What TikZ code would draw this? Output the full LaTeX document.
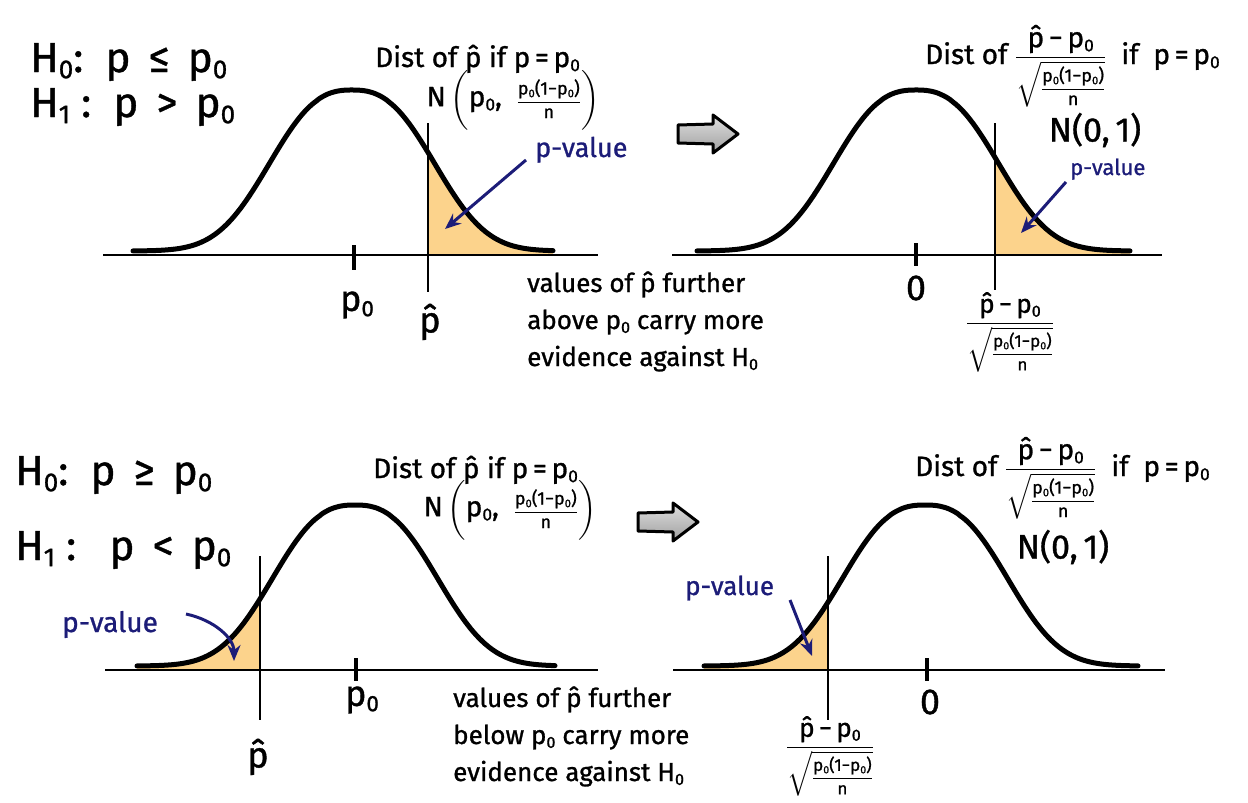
\documentclass[tikz,border=0pt]{standalone}
\usepackage{amsmath}
\usepackage{fontspec}
\setmainfont{Fira Sans}[FakeBold=1]
\usetikzlibrary{arrows.meta}
\definecolor{pfill}{RGB}{252,211,140}
\definecolor{pblue}{RGB}{28,28,120}
\newcommand\fsz[1]{\fontsize{#1}{#1}\selectfont}
\newcommand\sub[1]{\raisebox{-0.28ex}{\scalebox{0.62}{#1}}}
\newcommand\pz{p\sub{0}}
\newcommand\ph{\^{p}}
\newcommand\zfr[2]{\fsz{#1}$\dfrac{\mbox{\ph\,−\,\pz}}{\sqrt{\mbox{\fsz{#2}$\dfrac{\mbox{\pz(1−\pz)}}{\mbox{n}}$}}}$}
\newcommand\Nvar{N\,$\biggl(\mbox{\pz,\ \ }\mbox{\fsz{18}$\dfrac{\mbox{\pz(1−\pz)}}{\mbox{n}}$}\biggr)$}
\tikzset{
  declare function={bell(\d)=161*exp(-pow((\d/100)*(\d/100)+0.001,1.3));},
  curve/.style={line width=5pt, line cap=round, line join=round},
  axisline/.style={line width=2.6pt},
  vline/.style={line width=2pt},
  tick/.style={line width=3.5pt},
  bluearrow/.style={pblue, line width=3pt, -{Stealth[length=16pt,width=13pt]}},
  hyp/.style={font=\fsz{42}, anchor=base west, inner sep=0pt},
  head/.style={font=\fsz{28}, anchor=base west, inner sep=0pt},
  lab/.style={font=\fsz{36}, inner sep=0pt},
  pval/.style={font=\fsz{27}, text=pblue, anchor=base west, inner sep=0pt},
  note/.style={font=\fsz{26}, align=left, anchor=base west, inner sep=0pt},
  grayarrow/.style={draw=black, line width=3pt, line join=round, top color=gray!25, bottom color=gray!75},
}
\begin{document}
\begin{tikzpicture}[x=1pt,y=-1pt]
\useasboundingbox (0,0) rectangle (1248,803);
% ================= TOP LEFT =================
\node[hyp] (h0a) at (30,72) {H\sub{0}:\ \ p \,≤\, \pz};
\node[hyp] (h1a) at (30,117) {H\sub{1} :\ \ p \,>\, \pz};
\fill[pfill] (428,255) -- plot[domain=76:201,samples=60] ({352+\x},{251-bell(\x)}) -- (553,255) -- cycle;
\coordinate (axTLl) at (103,255); \coordinate (axTLr) at (598,255);
\draw[axisline] (axTLl) -- (axTLr);
\draw[curve] plot[domain=-219:201,samples=150] ({352+\x},{251-bell(\x)});
\coordinate (vTLt) at (428,123); \coordinate (vTLb) at (428,292);
\draw[vline] (vTLt) -- (vTLb);
\coordinate (tTLt) at (354,245); \coordinate (tTLb) at (354,270);
\draw[tick] (tTLt) -- (tTLb);
\node[lab] (p0TL) at (357,305) {\pz};
\node[lab] (phTL) at (430,322) {\ph};
\node[head] (dTL) at (375,67) {Dist of \ph\ if p\,=\,\pz};
\node[font=\fsz{28}, inner sep=0pt] (nTL) at (513,100) {\Nvar};
\node[pval] (pvTL) at (535,157) {p-value};
\coordinate (aTLs) at (526,160); \coordinate (aTLe) at (445,229);
\draw[bluearrow] (aTLs) -- (aTLe);
\node[note] (vTL) at (527,366) {values of \ph\ further\\[11pt] above \pz\ carry more\\[11pt] evidence against H\sub{0}};
% gray arrow top
\path[grayarrow] (678,125) -- (713,124) -- (713,115) -- (738,134) -- (713,153) -- (713,144) -- (678,143) -- cycle;
% ================= TOP RIGHT =================
\fill[pfill] (995,255) -- plot[domain=79:214,samples=60] ({916+\x},{251-bell(\x)}) -- (1130,255) -- cycle;
\coordinate (axTRl) at (672,255); \coordinate (axTRr) at (1162,255);
\draw[axisline] (axTRl) -- (axTRr);
\draw[curve] plot[domain=-219:214,samples=150] ({916+\x},{251-bell(\x)});
\coordinate (vTRt) at (995,123); \coordinate (vTRb) at (995,290);
\draw[vline] (vTRt) -- (vTRb);
\coordinate (tTRt) at (916,243); \coordinate (tTRb) at (916,266);
\draw[tick] (tTRt) -- (tTRb);
\node[lab] (zTR) at (916,288) {0};
\node[inner sep=0pt, anchor=north] (fTR) at (1010,292) {\zfr{26}{17}};
\node[head] (dTR) at (925,64) {Dist of \zfr{28}{18} \ if \ p\,=\,\pz};
\node[font=\fsz{34}, inner sep=0pt] (nTR) at (1095,130) {N(0,\,1)};
\node[pval, font=\fsz{22}] (pvTR) at (1070,175) {p-value};
\coordinate (aTRs) at (1066,182); \coordinate (aTRe) at (1021,233);
\draw[bluearrow] (aTRs) -- (aTRe);
% ================= BOTTOM LEFT =================
\node[hyp] (h0b) at (15,485) {H\sub{0}:\ \ p \,≥\, \pz};
\node[hyp] (h1b) at (15,560) {H\sub{1} :\ \ \ p \,<\, \pz};
\fill[pfill] (260,670) -- plot[domain=-95:-218,samples=60] ({355+\x},{666-bell(\x)}) -- (137,670) -- cycle;
\coordinate (axBLl) at (105,670); \coordinate (axBLr) at (598,670);
\draw[axisline] (axBLl) -- (axBLr);
\draw[curve] plot[domain=-218:200,samples=150] ({355+\x},{666-bell(\x)});
\coordinate (vBLt) at (260,556); \coordinate (vBLb) at (260,720);
\draw[vline] (vBLt) -- (vBLb);
\coordinate (tBLt) at (356,658); \coordinate (tBLb) at (356,681);
\draw[tick] (tBLt) -- (tBLb);
\node[lab] (p0BL) at (362,700) {\pz};
\node[lab] (phBL) at (258,757) {\ph};
\node[head] (dBL) at (373,478) {Dist of \ph\ if p\,=\,\pz};
\node[font=\fsz{28}, inner sep=0pt] (nBL) at (510,510) {\Nvar};
\node[pval, font=\fsz{28}] (pvBL) at (62,632) {p-value};
\coordinate (aBLs) at (186,614); \coordinate (aBLe) at (234,661);
\draw[bluearrow] (aBLs) .. controls (214,620) and (234,638) .. (aBLe);
\node[note] (vBL) at (453,781) {values of \ph\ further\\[11pt] below \pz\ carry more\\[11pt] evidence against H\sub{0}};
% gray arrow bottom
\path[grayarrow] (638,513) -- (673,512) -- (673,503) -- (698,522) -- (673,541) -- (673,532) -- (638,531) -- cycle;
% ================= BOTTOM RIGHT =================
\fill[pfill] (828,670) -- plot[domain=-97:-221,samples=60] ({925+\x},{666-bell(\x)}) -- (704,670) -- cycle;
\coordinate (axBRl) at (673,670); \coordinate (axBRr) at (1165,670);
\draw[axisline] (axBRl) -- (axBRr);
\draw[curve] plot[domain=-221:213,samples=150] ({925+\x},{666-bell(\x)});
\coordinate (vBRt) at (828,556); \coordinate (vBRb) at (828,720);
\draw[vline] (vBRt) -- (vBRb);
\coordinate (tBRt) at (927,658); \coordinate (tBRb) at (927,681);
\draw[tick] (tBRt) -- (tBRb);
\node[lab] (zBR) at (930,702) {0};
\node[inner sep=0pt, anchor=north] (fBR) at (830,716) {\zfr{26}{17}};
\node[head] (dBR) at (915,476) {Dist of \zfr{28}{18} \ if \ p\,=\,\pz};
\node[font=\fsz{34}, inner sep=0pt] (nBR) at (1063,547) {N(0,\,1)};
\node[pval, font=\fsz{26}] (pvBR) at (685,595) {p-value};
\coordinate (aBRs) at (790,600); \coordinate (aBRe) at (812,656);
\draw[bluearrow] (aBRs) -- (aBRe);
\end{tikzpicture}
\end{document}
